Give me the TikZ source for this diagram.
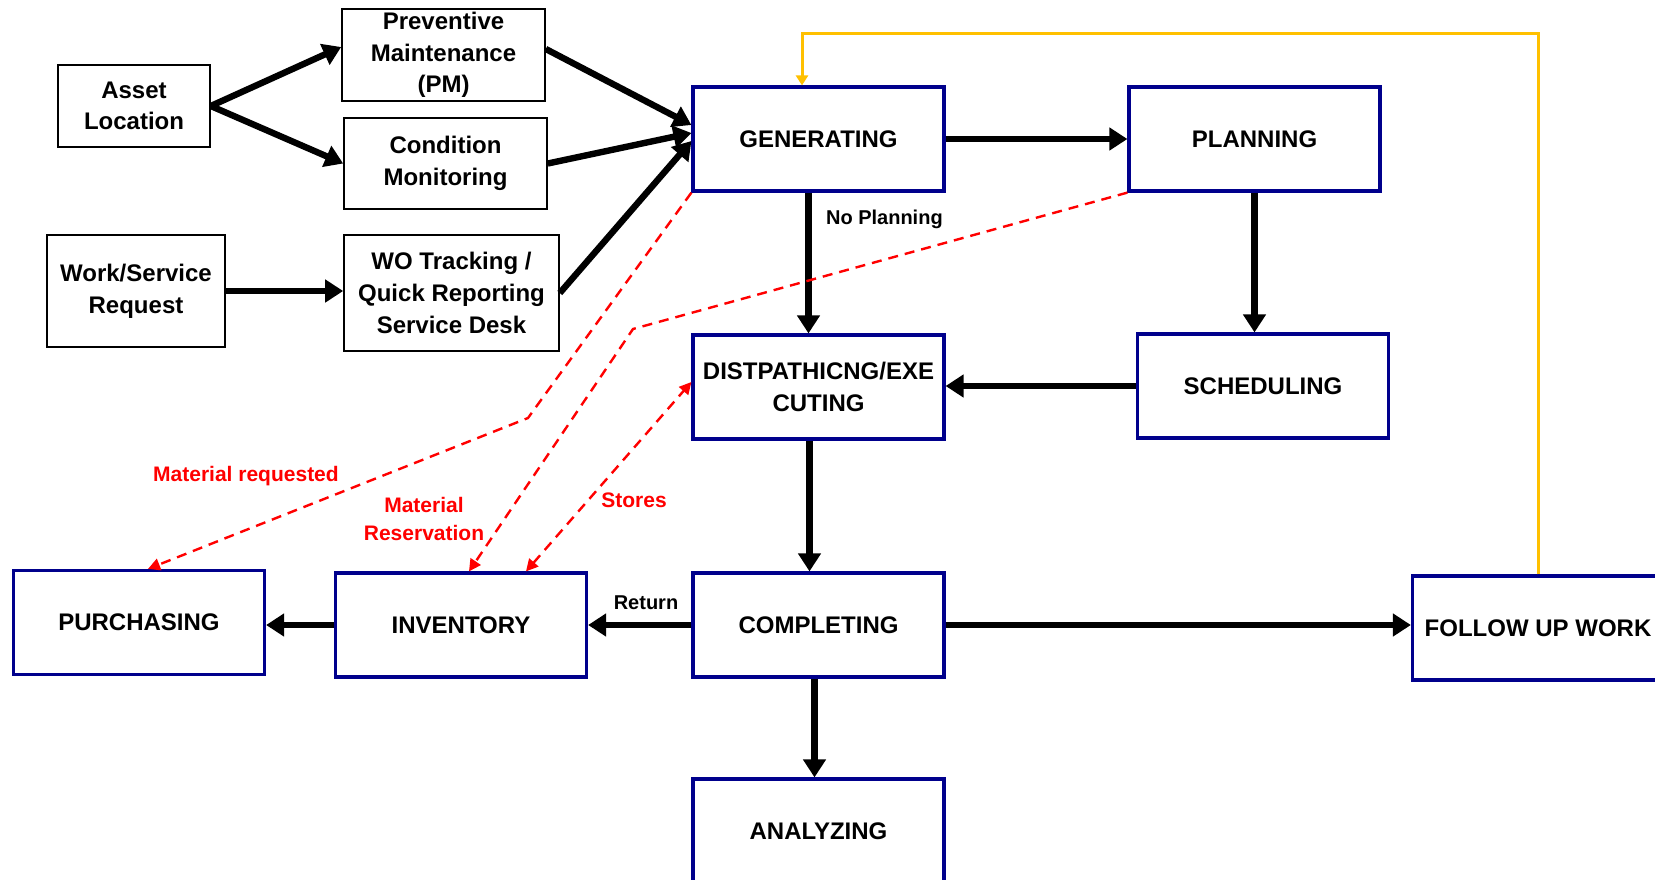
\documentclass[tikz,border=0pt]{standalone}
\usepackage{fontspec}
\setmainfont{Liberation Sans}
\usetikzlibrary{arrows.meta}
\definecolor{boxblue}{RGB}{0,0,140}
\definecolor{loopgold}{RGB}{255,192,0}
\definecolor{matred}{RGB}{255,0,0}
\tikzset{
  stage/.style={draw=boxblue, line width=1.6pt, minimum width=125.5pt, minimum height=52pt,
    inner sep=0pt, align=center, font=\bfseries\fontsize{12}{15.8}\selectfont},
  source/.style={draw=black, line width=0.8pt, inner sep=0pt, align=center,
    font=\bfseries\fontsize{12}{15.8}\selectfont},
  flow/.style={line width=3.2pt, -{Triangle[width=11pt,length=9pt]}},
  matflow/.style={matred, line width=1.2pt, dash pattern=on 5pt off 3.5pt,
    -{Triangle[width=6pt,length=6pt]}},
  feedback/.style={loopgold, line width=1.5pt, -{Triangle[width=6pt,length=5pt]}},
  note/.style={font=\bfseries\fontsize{10}{12}\selectfont},
  matnote/.style={matred, align=center, font=\bfseries\fontsize{10.5}{14.2}\selectfont}
}
\begin{document}
\begin{tikzpicture}[x=0.5pt, y=-0.5pt]

    % page frame
    \clip (0,0) rectangle (1655,879);

    % sources
    \node[source, minimum width=76pt, minimum height=41pt] (asset) at (134,106) {Asset\\Location};
    \node[source, minimum width=101.5pt, minimum height=45.75pt] (pm) at (443.5,55) {\raisebox{-2.5pt}{\parbox{100pt}{\centering Preventive\\Maintenance\\(PM)}}};
    \node[source, minimum width=101.5pt, minimum height=45.5pt] (cm) at (445.5,163.5) {Condition\\Monitoring};
    \node[source, minimum width=88.75pt, minimum height=56pt] (wsr) at (136,291) {Work/Service\\Request};
    \node[source, minimum width=107.5pt, minimum height=58pt] (wo) at (451.5,293) {WO Tracking /\\Quick Reporting\\Service Desk};

    % work order stages
    \node[stage] (gen) at (818.5,139) {GENERATING};
    \node[stage] (plan) at (1254.5,139) {PLANNING};
    \node[stage] (disp) at (818.5,387) {DISTPATHICNG/EXE\\CUTING};
    \node[stage] (sched) at (1263,386) {SCHEDULING};
    \node[stage] (purch) at (139,622.5) {PURCHASING};
    \node[stage] (inv) at (461,625) {INVENTORY};
    \node[stage] (comp) at (818.5,625) {COMPLETING};
    \node[stage] (follow) at (1538,628) {FOLLOW UP WORK};
    \node[stage] (ana) at (818.5,831) {ANALYZING};

    % inputs to generating
    \draw[flow] (asset.east) -- ([yshift=4pt]pm.west);
    \draw[flow] (asset.east) -- (cm.west);
    \draw[flow] (wsr.east) -- (wsr.east -| wo.west);
    \draw[flow] ([yshift=3pt]pm.east) -- ([yshift=7pt]gen.west);
    \draw[flow] (cm.east) -- ([yshift=3pt]gen.west);
    \draw[flow] (wo.east) -- ([yshift=-1pt]gen.west);

    % main flow
    \draw[flow] (gen.east) -- (plan.west);
    \draw[flow] ([xshift=-5pt]gen.south) -- ([xshift=-5pt]disp.north);
    \node[note, anchor=west] (noplan) at (819,219.5) {No Planning};
    \draw[flow] (plan.south) -- (plan.south |- sched.north);
    \draw[flow] (sched.west) -- (sched.west -| disp.east);
    \draw[flow] ([xshift=-4.5pt]disp.south) -- ([xshift=-4.5pt]comp.north);
    \draw[flow] ([xshift=-2pt]comp.south) -- ([xshift=-2pt]ana.north);
    \draw[flow] (comp.east) -- (comp.east -| follow.west);
    \draw[flow] (comp.west) -- (inv.east);
    \node[note] (ret) at (646,602.5) {Return};
    \draw[flow] (inv.west) -- (inv.west -| purch.east);

    % follow up loop
    \coordinate (fbtop) at (802,33);
    \draw[feedback] (follow.north) |- (fbtop) -- (fbtop |- gen.north);

    % material links
    \coordinate (reqbend) at (528,418);
    \coordinate (resbend) at (633,329);
    \draw[matflow] (gen.south west) -- (reqbend) -- ([xshift=4.5pt]purch.north);
    \draw[matflow] (plan.south west) -- (resbend) -- ([xshift=4pt]inv.north);
    \draw[matflow, {Triangle[width=6pt,length=6pt]}-{Triangle[width=6pt,length=6pt]}]
        ([xshift=32.5pt]inv.north) -- ([yshift=2.5pt]disp.west);
    \node[matnote] (req) at (246,476) {Material requested};
    \node[matnote] (res) at (424,519) {Material\\Reservation};
    \node[matnote] (stores) at (634,500) {Stores};

\end{tikzpicture}
\end{document}
